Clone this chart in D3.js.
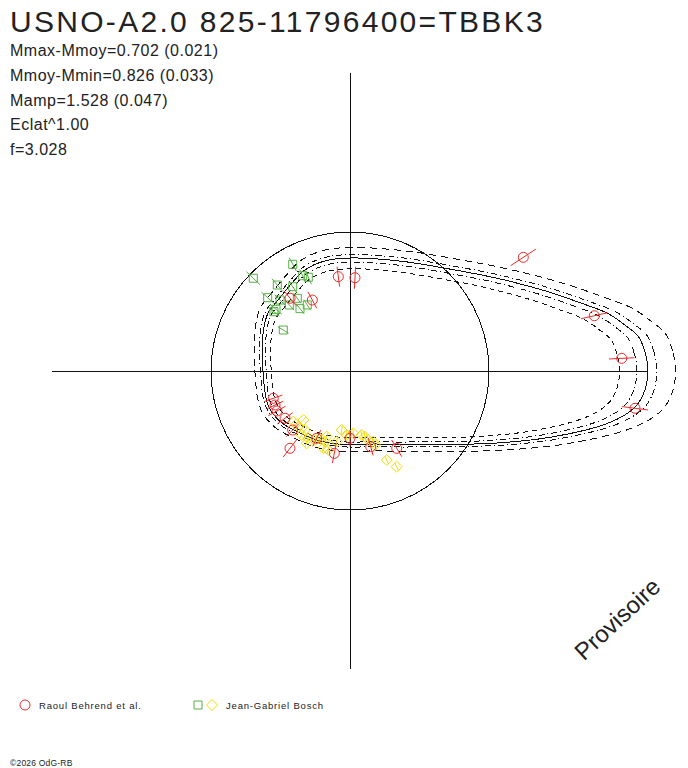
<!DOCTYPE html>
<html>
<head>
<meta charset="utf-8">
<script src="https://cdn.jsdelivr.net/npm/d3@7"></script>
<style>
body { margin: 0; background: #fff; }
text { font-family: "Liberation Sans", Arial, sans-serif; }
</style>
</head>
<body>
<div id="chart"></div>
<script>
var titleText = "USNO-A2.0 825-11796400=TBBK3";
var statLines = ["Mmax-Mmoy=0.702 (0.021)", "Mmoy-Mmin=0.826 (0.033)", "Mamp=1.528 (0.047)", "Eclat^1.00", "f=3.028"];

// fitted lightcurve : phase (0..1) vs relative flux (mean = 1)
var fitPhase = [0.000, 0.010, 0.019, 0.026, 0.035, 0.045, 0.061, 0.089, 0.127, 0.182, 0.250, 0.286, 0.317, 0.343, 0.376,
    0.402, 0.434, 0.500, 0.563, 0.600, 0.642, 0.685, 0.750, 0.800, 0.845, 0.875, 0.899, 0.929, 0.949, 0.967, 0.976,
    0.982, 0.990];
var fitFlux = [2.144, 2.127, 2.089, 2.010, 1.900, 1.740, 1.530, 1.255, 1.025, 0.869, 0.813, 0.812, 0.796, 0.758, 0.727,
    0.722, 0.683, 0.626, 0.639, 0.620, 0.573, 0.548, 0.532, 0.552, 0.642, 0.748, 0.893, 1.197, 1.515, 1.870, 2.020,
    2.085, 2.127];
// envelope curves, as flux factors of the fit
var envelopeFactor = [0.905, 0.963, 1, 1.03, 1.093];

// Raoul Behrend et al.
var behrendPhase = [0.0924, 0.0354, 0.0074, 0.9793, 0.2696, 0.2415, 0.3277, 0.3597, 0.5544, 0.5678, 0.5797, 0.6001,
    0.6273, 0.6449, 0.6769, 0.7200, 0.7500, 0.7925, 0.8365];
var behrendFlux = [1.491, 1.802, 1.957, 2.068, 0.684, 0.672, 0.578, 0.678, 0.586, 0.592, 0.599, 0.578,
    0.592, 0.704, 0.540, 0.603, 0.484, 0.565, 0.650];
var behrendErr = [0.108, 0.099, 0.092, 0.094, 0.072, 0.079, 0.067, 0.070, 0.070, 0.065, 0.070, 0.068,
    0.066, 0.080, 0.065, 0.072, 0.060, 0.065, 0.070];

// Jean-Gabriel Bosch, first session (squares)
var boschSquarePhase = [0.3783, 0.3284, 0.3617, 0.3233, 0.3166, 0.3450, 0.3842, 0.3739, 0.3498, 0.3683, 0.3576, 0.3414,
    0.3894, 0.3946, 0.4123];
var boschSquareFlux = [0.964, 0.871, 0.810, 0.765, 0.738, 0.733, 0.793, 0.717, 0.646, 0.645, 0.575, 0.566,
    0.693, 0.694, 0.563];
var boschSquareErr = [0.068, 0.055, 0.060, 0.050, 0.055, 0.050, 0.060, 0.055, 0.045, 0.050, 0.050, 0.045,
    0.055, 0.050, 0.045];

// Jean-Gabriel Bosch, second session (diamonds)
var boschDiamondPhase = [0.6161, 0.6288, 0.6309, 0.6463, 0.6471, 0.6617, 0.6641, 0.6753, 0.6833, 0.6959, 0.6957, 0.6971,
    0.7073, 0.7204, 0.7278, 0.7418, 0.7584, 0.7788, 0.7857, 0.7913, 0.8007, 0.8019, 0.8123, 0.8222];
var boschDiamondFlux = [0.547, 0.487, 0.547, 0.534, 0.577, 0.570, 0.606, 0.557, 0.530, 0.540, 0.501, 0.588,
    0.589, 0.517, 0.429, 0.461, 0.449, 0.468, 0.485, 0.514, 0.535, 0.562, 0.693, 0.766];
var boschDiamondErr = [0.03, 0.03, 0.03, 0.03, 0.03, 0.03, 0.03, 0.03, 0.03, 0.03, 0.03, 0.03,
    0.03, 0.03, 0.03, 0.03, 0.03, 0.03, 0.03, 0.03, 0.03, 0.03, 0.03, 0.03];

var legendNames = ["Raoul Behrend et al.", "Jean-Gabriel Bosch"];
var copyrightText = "\u00a92026 OdG-RB";
var stampText = "Provisoire";

var draw_polar = {
    width: 688,
    height: 768,
    cx: 350,
    cy: 371,
    view: 0,
    r: 0,
    a: 0,
    initialize: function() {
        var self = this;
        self.view = d3.select("#chart").append("svg")
            .attr("width", self.width)
            .attr("height", self.height)
            .style("background", "#fff");
        self.r = d3.scaleLinear().domain([0, 1]).range([0, 139]);
        self.a = d3.scaleLinear().domain([0, 1]).range([0, 2 * Math.PI]);
        self.drawTexts();
        self.drawFrame();
        self.drawCurves();
        self.drawPoints();
        self.drawLegend();
    },

    // phase counter-clockwise from +x, converted to d3 radial angle
    ang: function(p) {
        return Math.PI / 2 - this.a(p);
    },

    drawTexts: function() {
        var self = this;
        self.view.append("text")
            .attr("x", 10).attr("y", 32)
            .attr("font-size", 30)
            .attr("letter-spacing", 2.3)
            .attr("fill", "#222")
            .text(titleText);
        self.view.append("g")
            .selectAll("text")
            .data(statLines)
            .enter()
            .append("text")
            .attr("x", 10)
            .attr("y", function(d, i) { return 56 + i * 24.8; })
            .attr("font-size", 16)
            .attr("letter-spacing", 0.5)
            .attr("fill", "#222")
            .text(function(d) { return d; });
        self.view.append("text")
            .attr("transform", "translate(623,625) rotate(-43)")
            .attr("text-anchor", "middle")
            .attr("font-size", 24)
            .attr("fill", "#222")
            .text(stampText);
        self.view.append("text")
            .attr("x", 10).attr("y", 766)
            .attr("font-size", 8.5)
            .attr("letter-spacing", 0.2)
            .attr("fill", "#222")
            .text(copyrightText);
    },

    drawFrame: function() {
        var self = this;
        var rMax = self.r(d3.max(fitFlux));
        var g = self.view.append("g").attr("stroke", "#111").attr("stroke-width", 1)
            .attr("shape-rendering", "crispEdges");
        g.append("line")
            .attr("x1", self.cx - rMax).attr("x2", self.cx + rMax)
            .attr("y1", self.cy + 0.5).attr("y2", self.cy + 0.5);
        g.append("line")
            .attr("x1", self.cx + 0.5).attr("x2", self.cx + 0.5)
            .attr("y1", self.cy - rMax).attr("y2", self.cy + rMax);
        g.append("circle")
            .attr("cx", self.cx).attr("cy", self.cy)
            .attr("r", self.r(1))
            .attr("fill", "none");
    },

    drawCurves: function() {
        var self = this;
        var dash = ["5,4", "6,3,1,3", null, "6,3,1,3", "7,5"];
        var fit = fitPhase.map(function(p, i) { return { phase: p, flux: fitFlux[i] }; });
        var g = self.view.append("g")
            .attr("transform", "translate(" + self.cx + "," + self.cy + ")")
            .attr("shape-rendering", "crispEdges");
        envelopeFactor.forEach(function(k, j) {
            var line = d3.lineRadial()
                .angle(function(d) { return self.ang(d.phase); })
                .radius(function(d) { return self.r(d.flux * k); })
                .curve(d3.curveCatmullRomClosed.alpha(0.5));
            g.append("path")
                .attr("d", line(fit))
                .attr("fill", "none")
                .attr("stroke", "#111")
                .attr("stroke-width", 1)
                .attr("stroke-dasharray", dash[j]);
        });
    },

    drawSet: function(phase, flux, err, color, shape) {
        var self = this;
        var pts = phase.map(function(p, i) { return { phase: p, flux: flux[i], err: err[i] }; });
        var g = self.view.append("g")
            .attr("transform", "translate(" + self.cx + "," + self.cy + ")")
            .attr("stroke", color)
            .attr("stroke-width", 1)
            .attr("fill", "none");
        g.selectAll("line")
            .data(pts)
            .enter()
            .append("line")
            .each(function(d) {
                var p0 = d3.pointRadial(self.ang(d.phase), self.r(d.flux - d.err));
                var p1 = d3.pointRadial(self.ang(d.phase), self.r(d.flux + d.err));
                d3.select(this).attr("x1", p0[0]).attr("y1", p0[1]).attr("x2", p1[0]).attr("y2", p1[1]);
            });
        g.selectAll("path")
            .data(pts)
            .enter()
            .append("path")
            .attr("transform", function(d) {
                var p = d3.pointRadial(self.ang(d.phase), self.r(d.flux));
                return "translate(" + p[0] + "," + p[1] + ")";
            })
            .attr("d", shape);
    },

    drawPoints: function() {
        var self = this;
        self.drawSet(boschSquarePhase, boschSquareFlux, boschSquareErr, "#55b043", self.square);
        self.drawSet(boschDiamondPhase, boschDiamondFlux, boschDiamondErr, "#f0dc00", self.diamond);
        self.drawSet(behrendPhase, behrendFlux, behrendErr, "#ee2a2a", self.ring);
    },

    ring: "M5,0A5,5 0 1,1 -5,0A5,5 0 1,1 5,0Z",
    square: "M-4,-4H4V4H-4Z",
    diamond: "M0,-5.5L5.5,0L0,5.5L-5.5,0Z",

    drawLegend: function() {
        var self = this;
        var g = self.view.append("g").attr("fill", "none").attr("stroke-width", 1);
        g.append("path").attr("transform", "translate(25,705)").attr("d", self.ring).attr("stroke", "#ee2a2a");
        g.append("path").attr("transform", "translate(198,705)").attr("d", self.square).attr("stroke", "#55b043");
        g.append("path").attr("transform", "translate(212,705)").attr("d", self.diamond).attr("stroke", "#f0dc00");
        self.view.append("g")
            .selectAll("text")
            .data(legendNames)
            .enter()
            .append("text")
            .attr("x", function(d, i) { return i == 0 ? 39 : 226; })
            .attr("y", 709)
            .attr("font-size", 9.5)
            .attr("letter-spacing", 0.8)
            .attr("fill", "#222")
            .text(function(d) { return d; });
    }
}

draw_polar.initialize();
</script>
</body>
</html>
